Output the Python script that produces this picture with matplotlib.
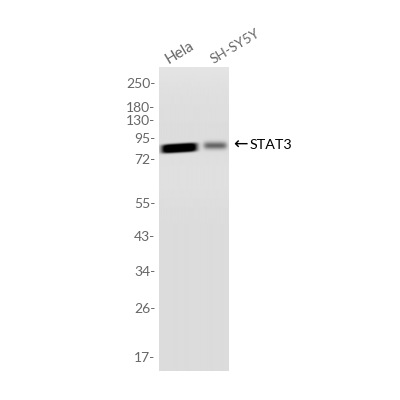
import numpy as np
import matplotlib
matplotlib.use("Agg")
import matplotlib.pyplot as plt

# marker ladder (row = pixel row in the image)
marker_labels = ["250", "180", "130", "95", "72", "55", "43", "34", "26", "17"]
marker_rows = [83, 107, 120, 138, 159, 203, 236, 271, 308, 357]
lanes = ["Hela", "SH-SY5Y"]
lane_centers = [179, 214.5]
band_rows = [148, 145.5]
band_half_widths = [17.5, 11.5]
band_half_heights = [4.4, 3.6]
band_strengths = [1.0, 0.38]
band_tilts = [-0.06, 0.0]
target = "STAT3"

left, right, top, bottom = 159, 228, 67, 371

plt.rcParams["font.family"] = ["Lato", "DejaVu Sans"]
fig = plt.figure(figsize=(4, 4), dpi=100)
ax = fig.add_axes([left / 400, 1 - bottom / 400, (right - left) / 400, (bottom - top) / 400])

# membrane image, 4 samples per pixel
xs = np.linspace(left, right, (right - left) * 4)
ys = np.linspace(top, bottom, (bottom - top) * 4)
X, Y = np.meshgrid(xs, ys)
grey = 0.862 + 0.035 * np.exp(-(Y - top) / 28.0)
grey = grey + 0.015 * np.exp(-((Y - 178) / 28.0) ** 2)   # faint smear under the bands
for cx, cy, hw, hh, s, tilt in zip(lane_centers, band_rows, band_half_widths,
                                   band_half_heights, band_strengths, band_tilts):
    dx = (X - cx) / hw
    dy = (Y - cy - tilt * (X - cx)) / hh
    shape = np.exp(-(dx ** 6)) * np.exp(-(dy ** 4 if s > 0.8 else dy ** 2))
    grey = grey - np.clip(shape * s * 1.25, 0, 0.95 if s > 0.8 else 0.5)
ax.imshow(np.clip(grey, 0, 1), cmap="gray", vmin=0, vmax=1, aspect="auto",
          extent=[left, right, bottom, top], interpolation="bilinear")

ax.set_xlim(left, right)
ax.set_ylim(bottom, top)
ax.set_xticks([])
ax.set_yticks(marker_rows, [m + "-" for m in marker_labels], fontsize=10, color="#666666")
ax.tick_params(axis="y", length=0, pad=2.5)
for s in ax.spines.values():
    s.set_visible(False)

# lane names sit right of the lane centre here
for name, x0, size in zip(lanes, [169, 214], [11, 9.8]):
    ax.annotate(name, xy=(x0, 64), xycoords="data", rotation=31,
                rotation_mode="anchor", ha="left", va="baseline",
                fontsize=size, color="#666666", annotation_clip=False)

fig.text(233 / 400, 1 - 145 / 400, "\u2190", fontsize=12.5, color="black",
         family="DejaVu Sans", ha="left", va="center")
fig.text(250 / 400, 1 - 144.5 / 400, target, fontsize=10.3, color="black", ha="left", va="center")

fig.savefig("out.png", dpi=100)
